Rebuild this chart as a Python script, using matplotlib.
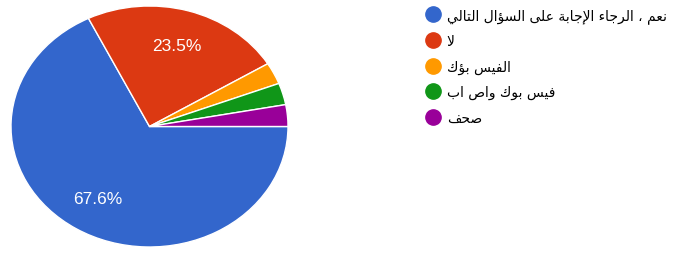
import matplotlib
matplotlib.use("Agg")
import matplotlib.pyplot as plt
from matplotlib.lines import Line2D

# ---- data ----
labels = ["نعم ، الرجاء الإجابة على السؤال التالي", "لا", "الفيس بؤك", "فيس بوك واص اب", "صحف"]
values = [67.6, 23.5, 2.9, 2.9, 2.9]
colors = ["#3366cc", "#dc3912", "#ff9900", "#109618", "#990099"]

# ---- minimal Arabic shaping (presentation forms) ----
DUAL = {'ئ': 0xFE89, 'ب': 0xFE8F, 'ت': 0xFE95, 'ث': 0xFE99, 'ج': 0xFE9D, 'ح': 0xFEA1,
        'خ': 0xFEA5, 'س': 0xFEB1, 'ش': 0xFEB5, 'ص': 0xFEB9, 'ض': 0xFEBD, 'ط': 0xFEC1,
        'ظ': 0xFEC5, 'ع': 0xFEC9, 'غ': 0xFECD, 'ف': 0xFED1, 'ق': 0xFED5, 'ك': 0xFED9,
        'ل': 0xFEDD, 'م': 0xFEE1, 'ن': 0xFEE5, 'ه': 0xFEE9, 'ي': 0xFEF1}
RIGHT = {'آ': 0xFE81, 'أ': 0xFE83, 'ؤ': 0xFE85, 'إ': 0xFE87, 'ا': 0xFE8D, 'ة': 0xFE93,
         'د': 0xFEA9, 'ذ': 0xFEAB, 'ر': 0xFEAD, 'ز': 0xFEAF, 'و': 0xFEED, 'ى': 0xFEEF}
LAMALEF = {'آ': 0xFEF5, 'أ': 0xFEF7, 'إ': 0xFEF9, 'ا': 0xFEFB}


def joins(c):
    return c in DUAL or c in RIGHT


def shape(s):
    out = []
    i = 0
    n = len(s)
    while i < n:
        c = s[i]
        prev = s[i - 1] if i > 0 else ''
        con_prev = prev in DUAL
        if c == 'ل' and i + 1 < n and s[i + 1] in LAMALEF:
            base = LAMALEF[s[i + 1]]
            out.append(chr(base + (1 if con_prev else 0)))
            i += 2
            continue
        nxt = s[i + 1] if i + 1 < n else ''
        if c in DUAL:
            con_next = joins(nxt)
            if con_prev and con_next:
                off = 3
            elif con_prev:
                off = 1
            elif con_next:
                off = 2
            else:
                off = 0
            out.append(chr(DUAL[c] + off))
        elif c in RIGHT:
            out.append(chr(RIGHT[c] + (1 if con_prev else 0)))
        elif c == 'ء':
            out.append(chr(0xFE80))
        else:
            out.append(c)
        i += 1
    return ''.join(reversed(out))


fig = plt.figure(figsize=(6.85, 2.55), dpi=100)
ax = fig.add_axes([11 / 685, 7 / 255, 277 / 685, 241 / 255])

pct_iter = iter(values)
wedges, texts, autotexts = ax.pie(
    values, colors=colors, startangle=0, counterclock=False,
    autopct=lambda p: (lambda v: f"{v:.1f}%" if v > 5 else "")(next(pct_iter)),
    pctdistance=0.7,
    wedgeprops=dict(edgecolor="white", linewidth=1.0), radius=1.0)
for t in autotexts:
    t.set_color("white")
    t.set_fontsize(12.5)
    t.set_fontfamily("Liberation Sans")
ax.set_aspect("auto")
ax.set_xlim(-1, 1)
ax.set_ylim(-1, 1)
ax.axis("off")

handles = [Line2D([0], [0], marker="o", linestyle="none", markersize=11,
                  markerfacecolor=c, markeredgecolor=c) for c in colors]
leg = fig.legend(handles, [shape(l) for l in labels], loc="upper left",
                 bbox_to_anchor=(426 / 685, 1.0 - 9 / 255), frameon=False,
                 prop={"family": ["DejaVu Sans"], "size": 10},
                 handlelength=1.0, handletextpad=0.5, labelspacing=0.82,
                 borderaxespad=0.0, borderpad=0.0)

fig.savefig("out.png", dpi=100)
